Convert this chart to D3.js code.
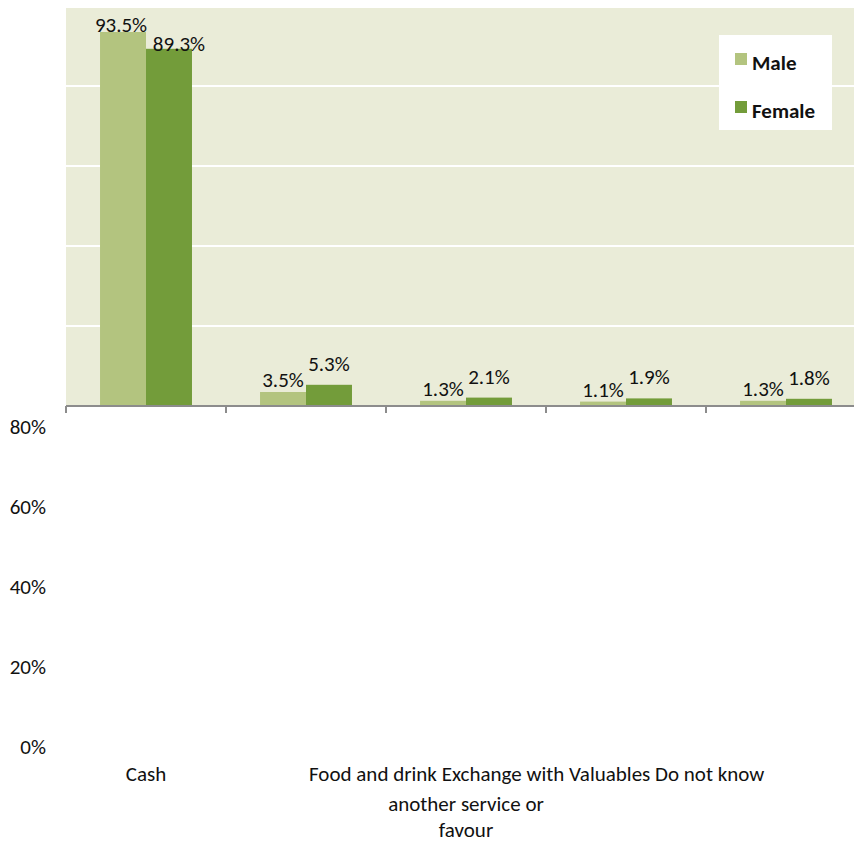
<!DOCTYPE html>
<html><head><meta charset="utf-8">
<script src="https://cdn.jsdelivr.net/npm/d3@7/dist/d3.min.js"></script>
<style>
html,body{margin:0;padding:0;background:#fff;}
svg{display:block;font-family:Carlito,Lato,"Open Sans",sans-serif;}
</style></head>
<body><svg id="c" width="854" height="843"></svg>
<script>
const categories = ["Cash","Food and drink","Exchange with another service or favour","Valuables","Do not know"];
const seriesNames = ["Male","Female"];
const maleValues = [93.5, 3.5, 1.3, 1.1, 1.3];
const femaleValues = [89.3, 5.3, 2.1, 1.9, 1.8];
const yTicks = [0, 20, 40, 60, 80];
const colors = ["#B3C47F","#739C3A"];

(function(){
const svg = d3.select("#c");
const FS = 21;
const pLeft = 66, pRight = 866, pTop = 6, pBottom = 406;
const x = d3.scaleBand().domain(categories).range([pLeft, pRight]).paddingInner(0).paddingOuter(0);
const x1 = d3.scaleBand().domain(seriesNames).range([0, x.bandwidth()]).paddingInner(0).paddingOuter(0.74);
const y = d3.scaleLinear().domain([0, 100]).range([pBottom, pTop]);

// plot background
svg.append("rect").attr("x", pLeft).attr("y", 8).attr("width", 854 - pLeft).attr("height", pBottom - 8).attr("fill", "#EAECD8");

// gridlines
svg.append("g").selectAll("line").data([20,40,60,80]).join("line")
  .attr("x1", pLeft).attr("x2", 854).attr("y1", d => y(d)).attr("y2", d => y(d))
  .attr("stroke", "#fff").attr("stroke-width", 2);

// bars
const series = [maleValues, femaleValues];
const g = svg.append("g");
series.forEach((vals, si) => {
  g.selectAll(null).data(vals).join("rect")
    .attr("x", (d, i) => x(categories[i]) + x1(seriesNames[si]))
    .attr("y", d => y(d))
    .attr("width", x1.bandwidth())
    .attr("height", d => y(0) - y(d))
    .attr("fill", colors[si]);
});

// data labels
const offs = [5, 14];
const tallDx = [-2, 10];
series.forEach((vals, si) => {
  g.selectAll(null).data(vals).join("text")
    .attr("x", (d, i) => x(categories[i]) + x1(seriesNames[si]) + x1.bandwidth()/2 + (d > 50 ? tallDx[si] : 0))
    .attr("y", d => d > 50 ? y(d) + (si === 0 ? 0 : 2) : y(d) - offs[si])
    .attr("text-anchor", "middle")
    .attr("font-size", FS)
    .attr("fill", "#111")
    .text(d => d.toFixed(1) + "%");
});

// x axis
const xa = svg.append("g");
xa.append("line").attr("x1", pLeft).attr("x2", 854).attr("y1", pBottom).attr("y2", pBottom)
  .attr("stroke", "#8C8C8C").attr("stroke-width", 2);
const bounds = categories.map(c => x(c));
xa.selectAll(null).data(bounds).join("line")
  .attr("x1", d => d).attr("x2", d => d).attr("y1", pBottom).attr("y2", pBottom + 7)
  .attr("stroke", "#8C8C8C").attr("stroke-width", 2);

// y tick labels (displaced below the plot as in the reference)
const yOffset = 341;
svg.append("g").selectAll("text").data(yTicks).join("text")
  .attr("x", 46).attr("y", d => y(d) + yOffset).attr("dy", "0.35em")
  .attr("text-anchor", "end").attr("font-size", FS).attr("fill", "#111")
  .text(d => d + "%");

// category labels
const lab = svg.append("g").attr("font-size", FS).attr("fill", "#111");
lab.append("text").attr("x", x.bandwidth()/2 + x(categories[0])).attr("y", 781).attr("text-anchor","middle").text(categories[0]);
const firstLine = [categories[1], "Exchange with", categories[3], categories[4]].join(" ");
lab.append("text").attr("x", 309).attr("y", 781).attr("text-anchor","start").text(firstLine);
const exCenter = x(categories[2]) + x.bandwidth()/2;
lab.append("text").attr("x", exCenter).attr("y", 811).attr("text-anchor","middle").text("another service or");
lab.append("text").attr("x", exCenter).attr("y", 837).attr("text-anchor","middle").text("favour");

// legend
const lg = svg.append("g");
lg.append("rect").attr("x", 719).attr("y", 35).attr("width", 113).attr("height", 95).attr("fill", "#fff");
seriesNames.forEach((s, i) => {
  lg.append("rect").attr("x", 735).attr("y", 53 + i*48).attr("width", 12).attr("height", 12).attr("fill", colors[i]);
  lg.append("text").attr("x", 752).attr("y", 70 + i*48).attr("font-size", FS).attr("font-weight", "bold").attr("fill", "#111").text(s);
});
})();
</script></body></html>
